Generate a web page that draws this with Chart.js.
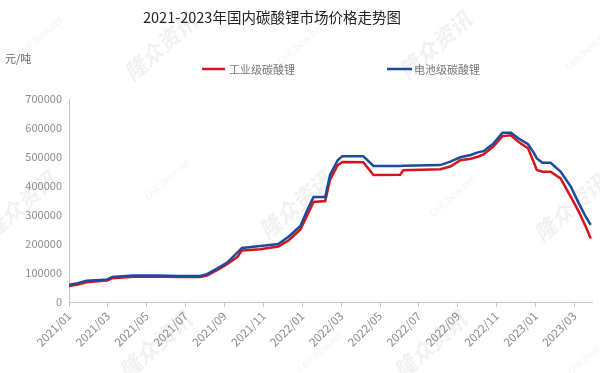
<!DOCTYPE html>
<html>
<head>
<meta charset="utf-8">
<script src="https://cdn.jsdelivr.net/npm/chart.js@4.4.1/dist/chart.umd.min.js"></script>
<style>
  html, body { margin: 0; padding: 0; background: #ffffff; }
  #wrap { width: 600px; height: 373px; position: relative; }
</style>
</head>
<body>
<div id="wrap"><canvas id="c" width="600" height="373"></canvas></div>
<script>
// ---------------- DATA ----------------
const chartTitle = '2021-2023年国内碳酸锂市场价格走势图';
const unitLabel = '元/吨';
const seriesNames = ['工业级碳酸锂', '电池级碳酸锂'];
const watermarkCN = '隆众资讯';
const watermarkEN = 'OilChem.net';

const dates = [
  '2021-01-01','2021-01-15','2021-01-29','2021-02-18','2021-02-28','2021-03-08','2021-04-10',
  '2021-05-20','2021-06-20','2021-07-24','2021-08-04','2021-08-20','2021-09-05','2021-09-21',
  '2021-09-28','2021-10-27','2021-11-24','2021-12-10','2021-12-29','2022-01-09','2022-01-19',
  '2022-02-06','2022-02-13','2022-02-24','2022-03-03','2022-04-05','2022-04-21','2022-06-02',
  '2022-06-07','2022-08-04','2022-08-20','2022-09-05','2022-09-21','2022-10-02','2022-10-11',
  '2022-10-27','2022-11-10','2022-11-23','2022-12-05','2022-12-20','2022-12-29','2023-01-03',
  '2023-01-12','2023-01-25','2023-02-09','2023-02-24','2023-03-08','2023-03-19','2023-03-27'
];

const industrial = [
  55000, 60000, 68000, 72000, 74000, 82000, 87000,
  88000, 86000, 86000, 91000, 110000, 130000, 156000,
  178000, 182000, 191000, 212000, 250000, 299000, 345000,
  348000, 422000, 472000, 483000, 482000, 438000, 439000,
  454000, 458000, 467000, 489000, 494000, 501000, 509000,
  537000, 572000, 575000, 552000, 530000, 483000, 455000,
  449000, 449000, 426000, 362000, 311000, 260000, 219000
];

const battery = [
  59500, 65000, 73000, 76000, 78000, 86000, 91000,
  91000, 90000, 90000, 96000, 115000, 136000, 171000,
  186000, 193000, 200000, 225000, 262000, 317000, 362000,
  362000, 438000, 489000, 503000, 503000, 469000, 469000,
  470000, 472000, 484000, 499000, 507000, 516000, 520000,
  547000, 584000, 584000, 564000, 544000, 515000, 495000,
  480000, 480000, 450000, 397000, 340000, 294000, 266000
];

const tickLabels = ['2021/01','2021/03','2021/05','2021/07','2021/09','2021/11','2022/01',
                    '2022/03','2022/05','2022/07','2022/09','2022/11','2023/01','2023/03'];
const axisEndDate = '2023-03-29';
const yTicks = [0, 100000, 200000, 300000, 400000, 500000, 600000, 700000];

// ---------------- HELPERS ----------------
function monthIndex(s) {
  const [y, m, d] = s.split('-').map(Number);
  const dim = new Date(y, m, 0).getDate();
  return (y - 2021) * 12 + (m - 1) + (d - 1) / dim;
}
function labelToIndex(l) {
  const [y, m] = l.split('/').map(Number);
  return (y - 2021) * 12 + (m - 1);
}
const xs = dates.map(monthIndex);
const tickValues = tickLabels.map(labelToIndex);

const RED = '#d7141c';
const BLUE = '#1b4c9c';
const FONT = '"Noto Sans CJK SC", "Noto Sans", sans-serif';

// faint background watermark (decoration of the original image)
const watermarkPlugin = {
  id: 'watermark',
  beforeDraw(chart) {
    const ctx = chart.ctx;
    ctx.save();
    const cn = [[160, 47], [435, 45], [20, 205], [295, 205], [570, 208], [155, 345], [430, 345]];
    const en = [[40, 37], [300, 45], [588, 50], [167, 180], [452, 197], [320, 352], [590, 355]];
    ctx.textAlign = 'center';
    ctx.textBaseline = 'middle';
    ctx.fillStyle = 'rgba(120,120,120,0.10)';
    ctx.font = 'italic bold 22px ' + FONT;
    cn.forEach(([x, y]) => {
      ctx.save(); ctx.translate(x, y); ctx.rotate(-0.72); ctx.fillText(watermarkCN, 0, 0); ctx.restore();
    });
    ctx.fillStyle = 'rgba(120,120,120,0.10)';
    ctx.font = 'italic 11px "Liberation Serif", serif';
    en.forEach(([x, y]) => {
      ctx.save(); ctx.translate(x, y); ctx.rotate(-0.72); ctx.fillText(watermarkEN, 0, 0); ctx.restore();
    });
    ctx.restore();
  }
};

const decorPlugin = {
  id: 'decor',
  afterDraw(chart) {
    const ctx = chart.ctx;
    ctx.save();
    // title
    ctx.fillStyle = '#222';
    ctx.font = '14.5px ' + FONT;
    ctx.textAlign = 'left';
    ctx.textBaseline = 'middle';
    ctx.fillText(chartTitle, 143, 17);
    // unit
    ctx.fillStyle = '#666';
    ctx.font = '11px ' + FONT;
    ctx.fillText(unitLabel, 5, 59);
    // legend
    const items = [
      { ds: chart.data.datasets[0], x0: 202, x1: 225, tx: 229 },
      { ds: chart.data.datasets[1], x0: 387, x1: 412, tx: 414 }
    ];
    const ly = 69;
    items.forEach(it => {
      ctx.strokeStyle = it.ds.borderColor;
      ctx.lineWidth = 2.5;
      ctx.beginPath();
      ctx.moveTo(it.x0, ly);
      ctx.lineTo(it.x1, ly);
      ctx.stroke();
      ctx.fillStyle = '#777';
      ctx.fillText(it.ds.label, it.tx, ly + 0.5);
    });
    ctx.restore();
  }
};

new Chart(document.getElementById('c'), {
  type: 'line',
  data: {
    datasets: [
      {
        label: seriesNames[0],
        data: xs.map((x, i) => ({ x: x, y: industrial[i] })),
        borderColor: RED,
        backgroundColor: RED,
        borderWidth: 2.5,
        pointRadius: 0,
        tension: 0,
        fill: false,
        order: 2
      },
      {
        label: seriesNames[1],
        data: xs.map((x, i) => ({ x: x, y: battery[i] })),
        borderColor: BLUE,
        backgroundColor: BLUE,
        borderWidth: 2.5,
        pointRadius: 0,
        tension: 0,
        fill: false,
        order: 1
      }
    ]
  },
  options: {
    responsive: false,
    animation: false,
    devicePixelRatio: 1,
    layout: { padding: { top: 99, right: 8, bottom: 0, left: 0 } },
    plugins: {
      legend: { display: false },
      title: { display: false },
      tooltip: { enabled: false }
    },
    scales: {
      x: {
        type: 'linear',
        min: 0,
        max: monthIndex(axisEndDate),
        afterBuildTicks(scale) { scale.ticks = tickValues.map(v => ({ value: v })); },
        afterFit(scale) { scale.height = 71; },
        border: { display: true, color: '#c8c8c8', width: 1 },
        grid: { display: true, drawOnChartArea: false, drawTicks: true, tickLength: 5, color: '#c8c8c8' },
        ticks: {
          autoSkip: false,
          maxRotation: 45,
          minRotation: 45,
          padding: 2,
          color: '#8c8c8c',
          font: { family: FONT, size: 11.5 },
          callback(v) {
            const i = tickValues.indexOf(v);
            return i >= 0 ? tickLabels[i] : '';
          }
        }
      },
      y: {
        min: 0,
        max: 700000,
        afterBuildTicks(scale) { scale.ticks = yTicks.map(v => ({ value: v })); },
        afterFit(scale) { scale.width = 69; },
        border: { display: true, color: '#c8c8c8', width: 1 },
        grid: { display: false, drawTicks: false },
        ticks: {
          padding: 7,
          color: '#8c8c8c',
          font: { family: FONT, size: 11 },
          callback(v) { return String(v); }
        }
      }
    }
  },
  plugins: [watermarkPlugin, decorPlugin]
});
</script>
</body>
</html>
